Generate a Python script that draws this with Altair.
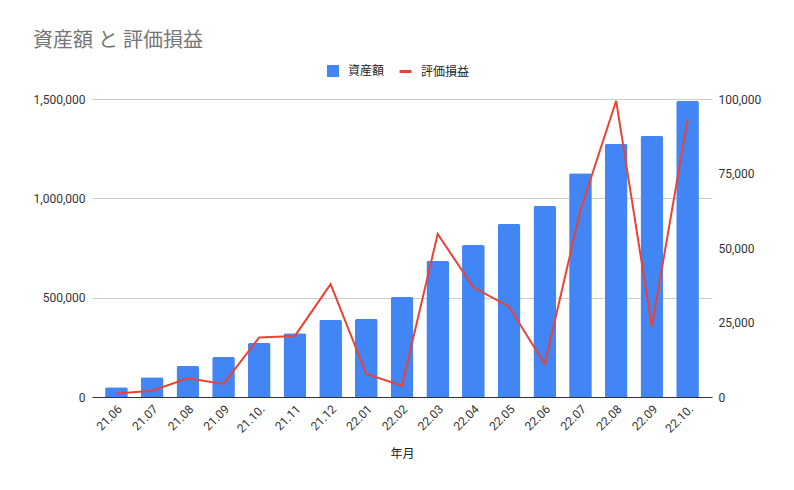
import altair as alt
import pandas as pd

months = ["21.06", "21.07", "21.08", "21.09", "21.10.", "21.11", "21.12", "22.01", "22.02",
          "22.03", "22.04", "22.05", "22.06", "22.07", "22.08", "22.09", "22.10."]
assets = [49000, 100000, 156000, 201000, 272000, 321000, 388000, 393000, 503000,
          685000, 765000, 871000, 961000, 1126000, 1274000, 1314000, 1490000]
pnl = [1200, 2100, 6300, 4400, 20000, 20500, 37900, 7700, 3800,
       54700, 36800, 30300, 11000, 62700, 99400, 23600, 93000]

df = pd.DataFrame({"年月": months, "資産額": assets, "評価損益": pnl})

FONT = "Roboto, 'Noto Sans CJK JP', sans-serif"
BLUE = "#4285F4"
RED = "#EA4335"

x_enc = alt.X(
    "年月:N", sort=months,
    scale=alt.Scale(paddingInner=0.364, paddingOuter=0.367),
    axis=alt.Axis(title="年月", labelAngle=-45, ticks=False, labelPadding=6,
                  domainColor="#333333", titlePadding=14, labelFontSize=12,
                  titleFontSize=12, titleFontWeight="normal", titleColor="#222222"),
)

bars = alt.Chart(df).transform_calculate(s1="'資産額'").mark_bar(
    color=BLUE, cornerRadiusTopLeft=2, cornerRadiusTopRight=2
).encode(
    x=x_enc,
    y=alt.Y("資産額:Q", scale=alt.Scale(domain=[0, 1500000]),
            axis=alt.Axis(title=None, values=[0, 500000, 1000000, 1500000], format=",.0f",
                          ticks=False, domain=False, labelPadding=7, gridColor="#cccccc")),
    color=alt.Color("s1:N", scale=alt.Scale(domain=["資産額"], range=[BLUE]),
                    legend=alt.Legend(title=None, orient="none", legendX=234, legendY=-35,
                                      symbolType="square", symbolSize=144, labelOffset=8,
                                      labelFontSize=12, labelColor="#222222")),
)

line = alt.Chart(df).transform_calculate(s2="'評価損益'").mark_line(strokeWidth=2).encode(
    x=alt.X("年月:N", sort=months),
    y=alt.Y("評価損益:Q", scale=alt.Scale(domain=[0, 100000]),
            axis=alt.Axis(title=None, orient="right", values=[0, 25000, 50000, 75000, 100000],
                          format=",.0f", ticks=False, domain=False, grid=False, labelPadding=6)),
    stroke=alt.Stroke("s2:N", scale=alt.Scale(domain=["評価損益"], range=[RED]),
                      legend=alt.Legend(title=None, orient="none", legendX=306, legendY=-35,
                                        symbolType="stroke", symbolSize=144, symbolStrokeWidth=3,
                                        labelOffset=8, labelFontSize=12, labelColor="#222222")),
)

chart = alt.layer(bars, line).resolve_scale(
    y="independent", color="independent", stroke="independent"
).properties(
    width=620, height=298,
    autosize=alt.AutoSizeParams(type="none"),
    padding={"left": 84, "top": 91, "right": 74, "bottom": 89},
    title=alt.TitleParams("資産額 と 評価損益", anchor="start", frame="group", dx=-59, dy=-9,
                          fontSize=20, fontWeight="normal", color="#757575", font=FONT),
).configure(font=FONT).configure_axis(
    labelFont=FONT, titleFont=FONT, labelFontSize=12, labelColor="#333333"
).configure_legend(labelFont=FONT).configure_view(stroke=None)

chart.save("out.html", embed_options={"renderer": "svg", "actions": False})
